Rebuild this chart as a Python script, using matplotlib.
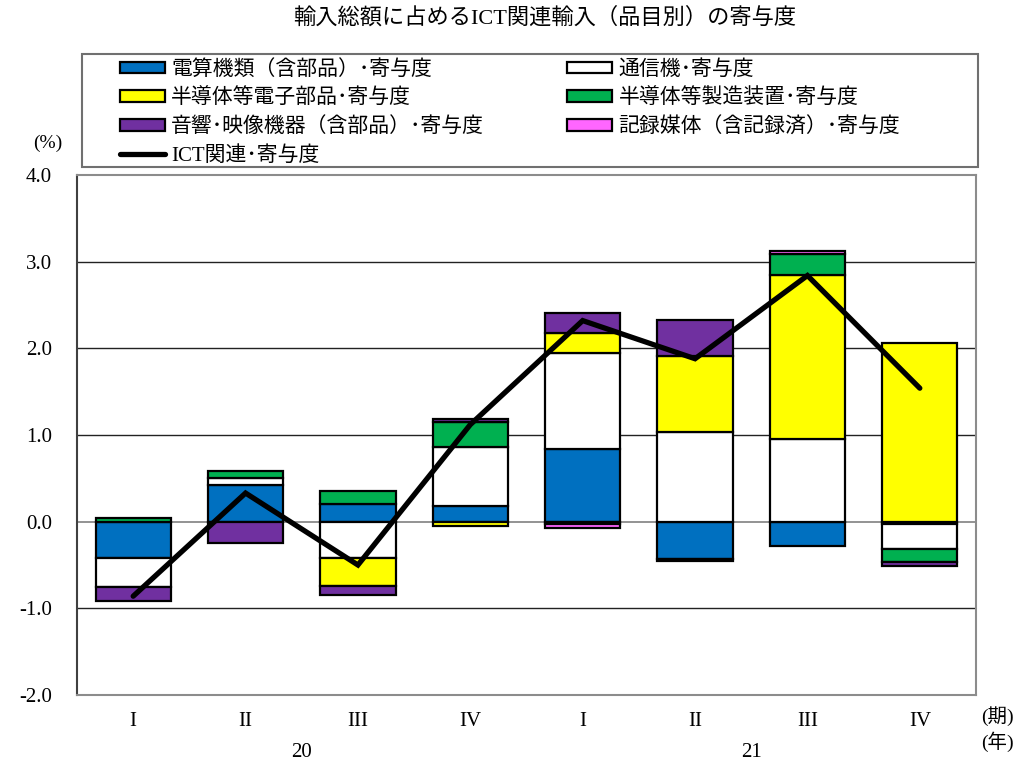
import matplotlib.pyplot as plt
import matplotlib.patches as mpatches
import numpy as np

plt.rcParams['font.family'] = ['Liberation Serif', 'Noto Sans CJK JP']
plt.rcParams['axes.unicode_minus'] = False

# quarters and years
quarters = ['I', 'II', 'III', 'IV', 'I', 'II', 'III', 'IV']
years = ['20', '21']

# contributions by item (%)
computers = [-0.42, 0.42, 0.20, 0.18, 0.84, -0.43, -0.28, -0.03]
telecom = [-0.33, 0.08, -0.42, 0.68, 1.11, 1.03, 0.95, -0.29]
semis = [0.0, 0.0, -0.32, -0.05, 0.23, 0.88, 1.90, 2.06]
semi_equip = [0.04, 0.08, 0.15, 0.29, -0.03, -0.02, 0.24, -0.15]
av_equip = [-0.17, -0.25, -0.11, 0.03, 0.23, 0.42, 0.0, -0.04]
media = [0.0, 0.0, 0.0, 0.0, -0.04, 0.0, 0.03, 0.0]
ict_total = [-0.86, 0.33, -0.50, 1.12, 2.32, 1.88, 2.84, 1.54]

series = [
    ('電算機類（含部品）･寄与度', computers, '#0070C0'),
    ('通信機･寄与度', telecom, '#FFFFFF'),
    ('半導体等電子部品･寄与度', semis, '#FFFF00'),
    ('半導体等製造装置･寄与度', semi_equip, '#00B050'),
    ('音響･映像機器（含部品）･寄与度', av_equip, '#7030A0'),
    ('記録媒体（含記録済）･寄与度', media, '#FF66FF'),
]

fig = plt.figure(figsize=(10.19, 7.65), dpi=100)
ax = fig.add_axes([77 / 1019, 1 - 695 / 765, 899 / 1019, 520 / 765])

x = np.arange(len(quarters))
pos = np.zeros(len(x))
neg = np.zeros(len(x))
handles = {}
for label, vals, color in series:
    v = np.array(vals)
    bottom = np.where(v >= 0, pos, neg)
    keep = v != 0
    ax.bar(x[keep], v[keep], bottom=bottom[keep], width=0.67, color=color,
           edgecolor='black', linewidth=1.6, zorder=3)
    handles[label] = mpatches.Patch(facecolor=color, edgecolor='black', linewidth=1.6)
    pos = pos + np.where(v > 0, v, 0)
    neg = neg + np.where(v < 0, v, 0)

line, = ax.plot(x, ict_total, color='black', linewidth=3.8, zorder=4,
                solid_capstyle='round', solid_joinstyle='miter')

ax.set_xlim(-0.5, 7.5)
ax.set_ylim(-2.0, 4.0)
ax.set_yticks(np.arange(-2, 4.1, 1.0))
ax.set_yticklabels([f'{t:.1f}' for t in np.arange(-2, 4.1, 1.0)], fontsize=15)
ax.set_xticks(x)
ax.set_xticklabels(quarters, fontsize=15)
ax.tick_params(axis='y', length=0, pad=18)
ax.tick_params(axis='x', length=0, pad=12)

for yv in [-1, 1, 2, 3]:
    ax.axhline(yv, color='#222222', linewidth=1.0, zorder=1)
ax.axhline(0, color='#808080', linewidth=1.2, zorder=1)

for s in ['top', 'right', 'bottom']:
    ax.spines[s].set_color('#8c8c8c')
    ax.spines[s].set_linewidth(1.5)
ax.spines['left'].set_color('#404040')
ax.spines['left'].set_linewidth(1.5)

for i, yr in enumerate(years):
    ax.text(1.5 + 4 * i, -0.11, yr, transform=ax.get_xaxis_transform(),
            ha='center', va='center', fontsize=15)

fig.text(997 / 1019, 1 - 716 / 765, '(期)', ha='center', va='center', fontsize=14)
fig.text(997 / 1019, 1 - 742 / 765, '(年)', ha='center', va='center', fontsize=14)
fig.text(48 / 1019, 1 - 143 / 765, '(%)', ha='center', va='center', fontsize=14)
fig.text(545 / 1019, 1 - 18 / 765, '輸入総額に占めるICT関連輸入（品目別）の寄与度',
         ha='center', va='center', fontsize=16)

# legend frame
fig.patches.append(mpatches.Rectangle((82 / 1019, 1 - 167 / 765), 896 / 1019, 113 / 765,
                                      transform=fig.transFigure, fill=False,
                                      edgecolor='#707070', linewidth=1.5))

order = [series[0][0], series[2][0], series[4][0], None,
         series[1][0], series[3][0], series[5][0]]
leg_handles = [handles[k] if k else line for k in order]
leg_labels = [k if k else 'ICT関連･寄与度' for k in order]
fig.legend(leg_handles, leg_labels, loc='upper left',
           bbox_to_anchor=(120 / 1019, 1 - 60 / 765), ncol=2, frameon=False,
           fontsize=15, handlelength=2.16, handleheight=0.48, handletextpad=0.29,
           labelspacing=0.42, columnspacing=4.0, borderpad=0, borderaxespad=0)

fig.savefig('out.png', dpi=100)
